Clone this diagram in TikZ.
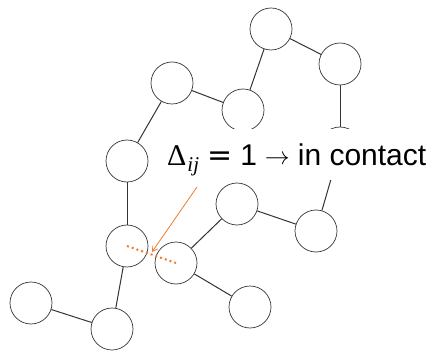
\documentclass[tikz,border=0pt]{standalone}
\usepackage{fontspec}
\setmainfont{Liberation Sans}
\newfontfamily\serifmath{Liberation Serif}
\newfontfamily\dejasans{DejaVu Sans}
\usetikzlibrary{arrows.meta}
\definecolor{lineg}{HTML}{333333}
\definecolor{orng}{HTML}{ED7D31}
\begin{document}
\begin{tikzpicture}[x=1pt,y=-1pt,
  bead/.style={circle,draw=lineg,line width=0.7pt,minimum size=42pt,inner sep=0pt,fill=white},
  bond/.style={draw=lineg,line width=1pt}]
\useasboundingbox (0,0) rectangle (435,352);
\node[bead] (c1) at (271,29) {};
\node[bead] (c2) at (340,64) {};
\node[bead] (c3) at (172,83) {};
\node[bead] (c4) at (243,110) {};
\node[bead] (c5) at (127,161) {};
\node[bead] (c6) at (340,148) {};
\node[bead] (c7) at (237,204) {};
\node[bead] (c8) at (316,231) {};
\node[bead] (c9) at (127,246) {};
\node[bead] (c10) at (176,263) {};
\node[bead] (c11) at (250,307) {};
\node[bead] (c12) at (31,303) {};
\node[bead] (c13) at (112,329) {};
\draw[bond] (c1) -- (c2);
\draw[bond] (c1) -- (c4);
\draw[bond] (c3) -- (c4);
\draw[bond] (c3) -- (c5);
\draw[bond] (c2) -- (c6);
\draw[bond] (c6) -- (c8);
\draw[bond] (c8) -- (c7);
\draw[bond] (c7) -- (c10);
\draw[bond] (c10) -- (c11);
\draw[bond] (c5) -- (c9);
\draw[bond] (c9) -- (c13);
\draw[bond] (c13) -- (c12);
\fill[white] (162,129.5) rectangle (435,180);
\node[anchor=base west,font=\fontsize{30}{36}\selectfont,inner sep=0pt] (lbl) at (167,165.5)
  {{\serifmath Δ}\hspace{1pt}\raisebox{-6pt}{\fontsize{21}{21}\selectfont\serifmath\itshape ij}\hspace{8pt}{\dejasans =}\hspace{8pt}1\hspace{8pt}\raisebox{1pt}{\fontsize{33}{33}\selectfont$\rightarrow$}\hspace{8pt}in contact};
\coordinate (arrs) at (197,187);
\coordinate (arre) at (152,252);
\draw[orng,line width=0.8pt,-{Straight Barb[length=5pt,width=6pt]}] (arrs) -- (arre);
\draw[orng,line width=2pt,dash pattern=on 2pt off 3pt] (c9.center) -- (c10.center);
\end{tikzpicture}
\end{document}
